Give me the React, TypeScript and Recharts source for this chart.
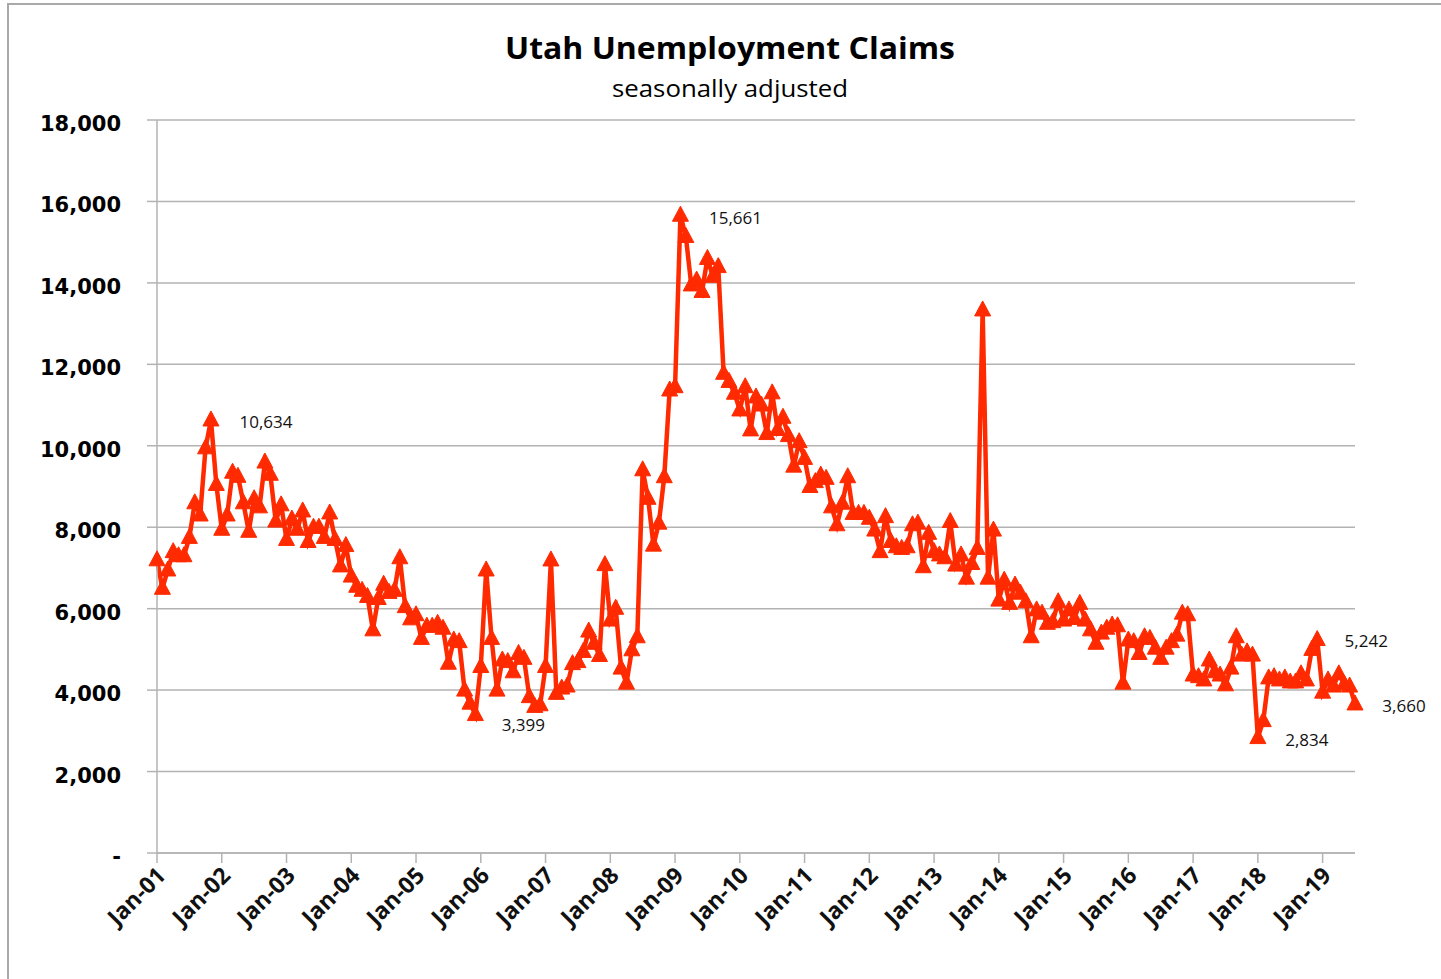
import React from "react";
import { LineChart, Line, XAxis, YAxis, CartesianGrid } from "recharts";

const START_YEAR = 2001;

const claims2001 = [7200, 6500, 6950, 7400, 7300, 7300, 7750, 8600, 8300, 9950, 10634, 9050];
const claims2002 = [7950, 8300, 9350, 9250, 8600, 7900, 8700, 8500, 9600, 9300, 8150, 8550];
const claims2003 = [7700, 8200, 7950, 8400, 7650, 8000, 8000, 7750, 8350, 7700, 7050, 7550];
const claims2004 = [6800, 6550, 6450, 6300, 5480, 6250, 6600, 6400, 6450, 7250, 6050, 5750];
const claims2005 = [5850, 5270, 5570, 5570, 5640, 5520, 4660, 5230, 5190, 4000, 3680, 3399];
const claims2006 = [4580, 6950, 5270, 4000, 4740, 4700, 4450, 4900, 4780, 3840, 3600, 3640];
const claims2007 = [4580, 7196, 3920, 4050, 4100, 4650, 4700, 4950, 5450, 5150, 4850, 7080];
const claims2008 = [5720, 6010, 4540, 4170, 4990, 5310, 9410, 8710, 7560, 8100, 9240, 11370];
const claims2009 = [11450, 15661, 15140, 13950, 14070, 13790, 14600, 14160, 14400, 11780, 11580, 11290];
const claims2010 = [10880, 11450, 10390, 11200, 11000, 10300, 11300, 10400, 10700, 10250, 9500, 10100];
const claims2011 = [9690, 9000, 9120, 9280, 9200, 8500, 8060, 8590, 9240, 8340, 8340, 8340];
const claims2012 = [8220, 7930, 7400, 8260, 7650, 7520, 7480, 7520, 8060, 8100, 7030, 7850];
const claims2013 = [7400, 7320, 7250, 8140, 7070, 7320, 6750, 7110, 7480, 13336, 6750, 7930];
const claims2014 = [6210, 6700, 6130, 6580, 6380, 6170, 5310, 5970, 5890, 5640, 5680, 6170];
const claims2015 = [5720, 5970, 5760, 6130, 5720, 5480, 5150, 5400, 5520, 5600, 5580, 4170];
const claims2016 = [5230, 5190, 4900, 5310, 5270, 5030, 4780, 5030, 5190, 5350, 5890, 5850];
const claims2017 = [4370, 4330, 4250, 4740, 4450, 4370, 4130, 4540, 5310, 4860, 4940, 4860];
const claims2018 = [2834, 3250, 4300, 4330, 4250, 4300, 4200, 4200, 4400, 4250, 5000, 5242];
const claims2019 = [3950, 4250, 4100, 4400, 4150, 4100, 3660];

const yearlyClaims = [
  claims2001, claims2002, claims2003, claims2004, claims2005, claims2006, claims2007,
  claims2008, claims2009, claims2010, claims2011, claims2012, claims2013, claims2014,
  claims2015, claims2016, claims2017, claims2018, claims2019,
];

const xTickLabels = [
  "Jan-01", "Jan-02", "Jan-03", "Jan-04", "Jan-05", "Jan-06", "Jan-07", "Jan-08", "Jan-09", "Jan-10",
  "Jan-11", "Jan-12", "Jan-13", "Jan-14", "Jan-15", "Jan-16", "Jan-17", "Jan-18", "Jan-19",
];
const yTicks = [0, 2000, 4000, 6000, 8000, 10000, 12000, 14000, 16000, 18000];

// month indexes (from Jan-01) of the annotated points
const annotatedMonths = [10, 59, 97, 204, 215, 222];

const data = yearlyClaims.flat().map((v, i) => ({
  month: i,
  year: START_YEAR + Math.floor(i / 12),
  claims: v,
}));
const xTicks = xTickLabels.map((_, k) => k * 12);
const lastMonth = data.length - 1;

const RED = "#ff2a00";
const GRID = "#b3b3b3";

const fmt = (v: number) => (v === 0 ? "-" : v.toLocaleString("en-US"));

const TriangleDot = (props: any) => {
  const { cx, cy } = props;
  if (cx == null || cy == null) return <g />;
  const w = 8, up = 9, down = 6;
  return (
    <polygon
      points={`${cx},${cy - up} ${cx + w},${cy + down} ${cx - w},${cy + down}`}
      fill={RED}
      stroke={RED}
      strokeWidth={1}
    />
  );
};

const labelOffsets: Record<number, [number, number]> = {
  10: [55, 2],
  59: [48, 10],
  97: [55, 2],
  204: [49, 2],
  215: [49, 1],
  222: [49, 2],
};

const PointLabel = (props: any) => {
  const { x, y, index, value } = props;
  if (!annotatedMonths.includes(index)) return <g />;
  const [dx, dy] = labelOffsets[index] || [50, 2];
  return (
    <text
      x={x + dx}
      y={y + dy}
      textAnchor="middle"
      dominantBaseline="central"
      fontFamily="'Open Sans', sans-serif"
      fontSize={17}
      fill="#111"
    >
      {fmt(value)}
    </text>
  );
};

const XTick = (props: any) => {
  const { x, y, payload } = props;
  const k = Math.round(payload.value / 12);
  const ax = x + 10;
  const ay = y + 10;
  return (
    <text
      x={ax}
      y={ay}
      transform={`rotate(-45, ${ax}, ${ay})`}
      textAnchor="end"
      fontFamily="'Open Sans', sans-serif"
      fontWeight="bold"
      fontSize={23}
      fill="#111"
    >
      {xTickLabels[k]}
    </text>
  );
};

const YTick = (props: any) => {
  const { x, y, payload } = props;
  return (
    <text
      x={x}
      y={y + 4}
      textAnchor="end"
      dominantBaseline="central"
      fontFamily="'DejaVu Sans', sans-serif"
      fontWeight="bold"
      fontSize={21}
      fill="#000"
    >
      {fmt(payload.value)}
    </text>
  );
};

export default function App() {
  return (
    <div style={{ position: "absolute", left: 0, top: 0, width: 1441, height: 979, background: "#fff" }}>
      <div
        style={{
          position: "absolute",
          left: 7,
          top: 3,
          width: 1434,
          height: 976,
          borderLeft: "2px solid #a9a9a9",
          borderTop: "2px solid #a9a9a9",
          boxSizing: "border-box",
        }}
      />
      <svg style={{ position: "absolute", left: 0, top: 0 }} width={1441} height={120}>
        <text
          x={730}
          y={59}
          textAnchor="middle"
          fontFamily="'Open Sans', sans-serif"
          fontWeight="bold"
          fontSize={30}
          textLength={450}
          lengthAdjust="spacingAndGlyphs"
          fill="#000"
        >
          Utah Unemployment Claims
        </text>
        <text
          x={730}
          y={97}
          textAnchor="middle"
          fontFamily="'Open Sans', sans-serif"
          fontSize={23}
          textLength={236}
          lengthAdjust="spacingAndGlyphs"
          fill="#000"
        >
          seasonally adjusted
        </text>
      </svg>
      <div style={{ position: "absolute", left: 0, top: 0 }}>
        <LineChart
          width={1441}
          height={979}
          data={data}
          margin={{ top: 120, right: 86, bottom: 26, left: 8 }}
        >
          <CartesianGrid vertical={false} stroke={GRID} strokeWidth={1.5} />
          <XAxis
            dataKey="month"
            type="number"
            domain={[0, lastMonth]}
            ticks={xTicks}
            interval={0}
            tick={<XTick />}
            height={100}
            tickSize={10}
            tickMargin={4}
            axisLine={{ stroke: GRID, strokeWidth: 1.5 }}
            tickLine={{ stroke: GRID, strokeWidth: 1.5 }}
          />
          <YAxis
            type="number"
            domain={[0, 18000]}
            ticks={yTicks}
            interval={0}
            width={149}
            tickSize={10}
            tickMargin={26}
            axisLine={{ stroke: GRID, strokeWidth: 1.5 }}
            tickLine={{ stroke: GRID, strokeWidth: 1.5 }}
            tick={<YTick />}
          />
          <Line
            type="linear"
            dataKey="claims"
            stroke={RED}
            strokeWidth={4.5}
            dot={<TriangleDot />}
            activeDot={false}
            label={<PointLabel />}
            isAnimationActive={false}
          />
        </LineChart>
      </div>
    </div>
  );
}
